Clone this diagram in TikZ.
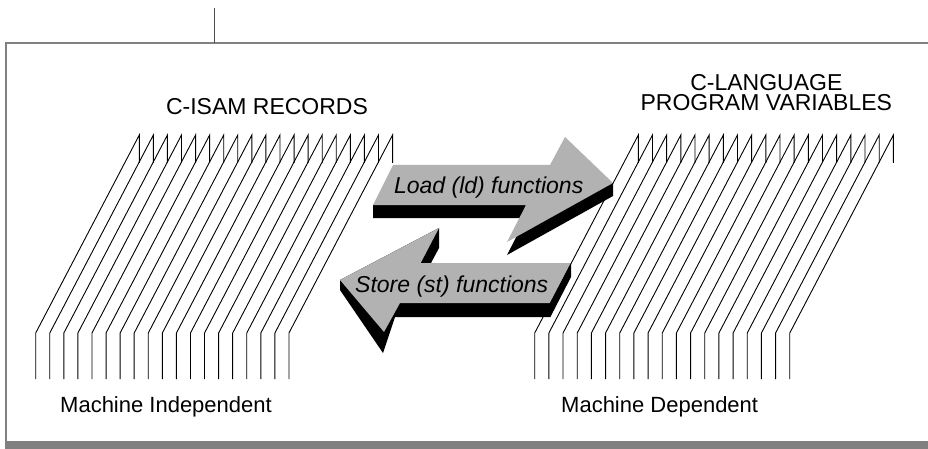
\documentclass[tikz,border=0pt]{standalone}
\usepackage{fontspec}
\setmainfont{Liberation Sans}
\usetikzlibrary{positioning}
\def\recdx{103.6}
\def\recknee{46}
\def\recrise{198}
\def\recdrop{28}
\tikzset{
record/.style={draw,line width=0.9pt,line join=miter},
frame line/.style={draw=black!50,line width=2.5pt},
my label/.style={font=\fontsize{23}{26}\selectfont,inner sep=0pt,text height=16.5pt,text depth=0pt},
foot label/.style={font=\fontsize{22}{26}\selectfont,inner sep=0pt},
arrow label/.style={font=\fontsize{23}{26}\selectfont\itshape,inner sep=0pt},
arrow body/.style={fill=black!30},
arrow shadow/.style={fill=black}
}
\begin{document}
\begin{tikzpicture}[x=1pt,y=-1pt,node distance=3pt]
\useasboundingbox (0,0) rectangle (928,449);
% frame
\draw[frame line] (6,441) -- (6,43) -- (928,43);
\fill[black!50] (5,441) rectangle (928,449);
\draw[black!70,line width=1pt] (214.3,8) -- (214.3,43);
% load arrow
\path[arrow shadow] (373,205) -- (373,218) -- (526,218) -- (507,255) -- (613,196) -- (613,183) -- cycle;
\path[arrow body] (393,165) -- (550,165) -- (565,137) -- (613,183) -- (507,242) -- (526,205) -- (373,205) -- cycle;
\node[arrow label,anchor=base] (load) at (488.7,193.3) {Load (ld) functions};
% store arrow
\path[arrow shadow] (340,280) -- (439,228) -- (439,248) -- (431,263) -- (571,263) -- (571,277)
  -- (550.4,317) -- (395,317) -- (383,353) -- (340,290) -- cycle;
\path[arrow body] (340,280) -- (439,228) -- (420.7,263) -- (571,263) -- (550.4,303) -- (400,303) -- (384,332) -- cycle;
\node[arrow label,anchor=base] (store) at (451.7,292.7) {Store (st) functions};
% records
\foreach \i in {0,...,18} {
  \draw[record] (35.7+\i*14.07,379) -- ++(0,-\recknee) -- ++(\recdx,-\recrise) -- ++(0,\recdrop);
  \draw[record] (534.7+\i*14.17,379) -- ++(0,-\recknee) -- ++(\recdx,-\recrise) -- ++(0,\recdrop);
}
% labels
\node[my label,anchor=base] (isam) at (267,114.3) {C-ISAM RECORDS};
\node[my label,anchor=base] (clang) at (766.3,90.7) {C-LANGUAGE};
\node[my label,below=of clang.south,anchor=north] (progvar) {PROGRAM VARIABLES};
\node[foot label,anchor=base west] (indep) at (60,412.7) {Machine Independent};
\node[foot label,anchor=base west] (dep) at (561,412.7) {Machine Dependent};
\end{tikzpicture}
\end{document}
